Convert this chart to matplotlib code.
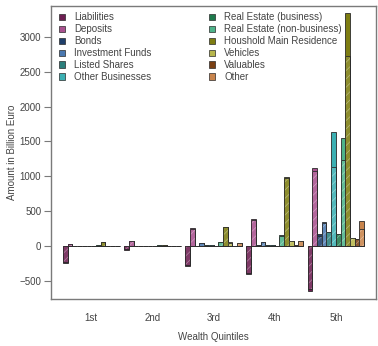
import matplotlib
matplotlib.use("Agg")
import matplotlib.pyplot as plt
from matplotlib.colors import to_rgb
from matplotlib.patches import Patch
import numpy as np

plt.rcParams["font.family"] = ["Liberation Sans", "DejaVu Sans"]
plt.rcParams["hatch.linewidth"] = 0.5

categories = [
    "Liabilities", "Deposits", "Bonds", "Investment Funds", "Listed Shares",
    "Other Businesses", "Real Estate (business)", "Real Estate (non-business)",
    "Houshold Main Residence", "Vehicles", "Valuables", "Other",
]
colors = [
    "#6e1f52", "#a9518f", "#1f3f6b", "#4a78b0", "#2b7f7c", "#3cb0b3",
    "#1e7a4c", "#4db38a", "#7e7d12", "#b7b64c", "#7a3f12", "#c8844c",
]
quintiles = ["1st", "2nd", "3rd", "4th", "5th"]

# totals per quintile, same order as categories
q1_total = [-240, 25, 0, 0, 3, 2, 0, 18, 60, 5, 3, 4]
q2_total = [-55, 75, 0, 0, 2, 2, 2, 10, 20, 5, 2, 2]
q3_total = [-290, 255, 5, 45, 8, 15, 5, 55, 275, 50, 5, 45]
q4_total = [-400, 385, 20, 55, 20, 15, 5, 160, 985, 75, 10, 75]
q5_total = [-645, 1115, 165, 350, 205, 1640, 175, 1555, 3345, 120, 100, 365]

# hatched lower part of each bar
q1_part = [-225, 22, 0, 0, 3, 2, 0, 16, 58, 5, 3, 4]
q2_part = [-50, 70, 0, 0, 2, 2, 2, 9, 19, 5, 2, 2]
q3_part = [-275, 240, 5, 42, 8, 14, 5, 50, 272, 47, 5, 42]
q4_part = [-385, 372, 18, 50, 18, 14, 5, 150, 980, 70, 9, 70]
q5_part = [-615, 1080, 150, 330, 195, 1140, 165, 1240, 2720, 110, 95, 240]

totals = np.array([q1_total, q2_total, q3_total, q4_total, q5_total], dtype=float)
parts = np.array([q1_part, q2_part, q3_part, q4_part, q5_part], dtype=float)


def tint(c, amount):
    r, g, b = to_rgb(c)
    return (r + (1 - r) * amount, g + (1 - g) * amount, b + (1 - b) * amount)


fig = plt.figure(figsize=(3.78, 3.46), dpi=100)
ax = fig.add_axes([0.135, 0.136, 0.86, 0.847])

n_cat = len(categories)
edge = "#2a2a2a"
for g in range(len(quintiles)):
    for i in range(n_cat):
        x = 1 + g * (n_cat + 1) + i + 0.5
        ax.bar(x, totals[g, i], width=1, color=colors[i], edgecolor=edge, linewidth=0.6)
        ax.bar(x, parts[g, i], width=1, color=tint(colors[i], 0.12),
               edgecolor=tint(colors[i], 0.45), linewidth=0, hatch="////")
        ax.bar(x, parts[g, i], width=1, fill=False, edgecolor=edge, linewidth=0.6)

centers = [1 + g * (n_cat + 1) + n_cat / 2 for g in range(len(quintiles))]
ax.set_xticks(centers)
ax.set_xticklabels(quintiles)
ax.set_xlim(-1.56, 67.56)
ax.set_ylim(-760, 3445)
ax.set_yticks([-500, 0, 500, 1000, 1500, 2000, 2500, 3000])

for s in ax.spines.values():
    s.set_color("#7a7a7a")
    s.set_linewidth(1.0)
ax.tick_params(axis="x", length=0, pad=10, labelsize=7, labelcolor="#444444")
ax.tick_params(axis="y", length=5, width=0.8, color="#7a7a7a", pad=2,
               labelsize=7, labelcolor="#444444")

fig.text(0.032, 0.56, "Amount in Billion Euro", rotation=90, ha="center",
         va="center", fontsize=7, color="#444444")
fig.text(0.565, 0.026, "Wealth Quintiles", ha="center", va="center",
         fontsize=7, color="#444444")

handles = [Patch(facecolor=c, edgecolor=edge, linewidth=0.5) for c in colors]
ax.legend(handles, categories, ncol=2, loc="upper left", bbox_to_anchor=(0.025, 0.978),
          frameon=False, fontsize=7, handlelength=0.65, handleheight=0.65,
          handletextpad=0.9, labelspacing=0.2, columnspacing=5.9,
          borderaxespad=0, borderpad=0, labelcolor="#444444")

fig.savefig("out.png", dpi=100)
